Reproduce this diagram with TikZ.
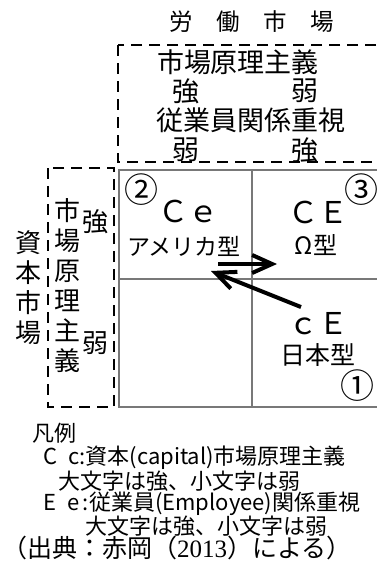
\documentclass[tikz,border=0pt]{standalone}
\usepackage{fontspec}
\setmainfont{Noto Sans CJK JP}
\newfontfamily\serifnum{Liberation Serif}
\usetikzlibrary{arrows.meta}
\newcommand\myfs[2]{\fontsize{#1}{#2}\selectfont}
\begin{document}
\begin{tikzpicture}[x=1pt,y=-1pt,
  dbox/.style={draw=black, line width=2.5pt, dash pattern=on 11pt off 7pt},
  gridline/.style={draw={rgb,255:red,120;green,120;blue,120}, line width=1.6pt},
  arr/.style={line width=4pt, -{Straight Barb[length=20pt,width=18pt]}},
  big/.style={inner sep=0pt, font={\myfs{27}{27}}},
  vert/.style={inner sep=0pt, align=center, font={\myfs{26}{30}}},
  side/.style={inner sep=0pt, font={\myfs{26}{26}}},
  quad/.style={inner sep=0pt, font={\myfs{24}{24}}},
  lat/.style={inner sep=0pt, font={\myfs{30}{30}}},
  circ/.style={inner sep=0pt, font={\myfs{34}{34}}},
  leg/.style={inner sep=0pt, anchor=west, font={\myfs{22}{22}}}
]
\useasboundingbox (0,0) rectangle (377,582);
\fill[white] (0,0) rectangle (377,582);
\clip (0,0) rectangle (377,582);

% title
\node[inner sep=0pt, font={\myfs{23.5}{23.5}}] (title) at (252,22) {労　働　市　場};

% top dashed box (labour market)
\draw[dbox] (118,45) rectangle (400,162);
\node[big] (tmk) at (238,62) {市場原理主義};
\node[big] (ts1) at (186,91) {強};
\node[big] (tw1) at (305,91) {弱};
\node[big] (tem) at (251,120) {従業員関係重視};
\node[big] (tw2) at (186,150) {弱};
\node[big] (ts2) at (305,150) {強};

% left dashed box (capital market)
\draw[dbox] (48,168) rectangle (114,407);
\node[vert] (cap) at (29,288) {資\\本\\市\\場};
\node[vert] (capm) at (67,286) {市\\場\\原\\理\\主\\義};
\node[side] (ls) at (95,222) {強};
\node[side] (lw) at (95,343) {弱};

% grid
\draw[gridline] (119,170) rectangle (386,407);
\draw[gridline] (252,170) -- (252,407);
\draw[gridline] (119,279) -- (386,279);

% quadrant labels
\node[circ] (n2) at (141,190) {②};
\node[lat] (ce) at (188,211) {Ｃｅ};
\node[quad, font={\myfs{23}{23}}] (us) at (184,246) {アメリカ型};
\node[lat] (CE) at (318,212) {ＣＥ};
\node[circ] (n3) at (361,190) {③};
\node[quad] (om) at (316,245) {Ω型};
\node[lat] (cE) at (318,324) {ｃＥ};
\node[quad, font={\myfs{25}{25}}] (jp) at (318,355) {日本型};
\node[circ] (n1) at (357,386) {①};

% arrows
\coordinate (a1s) at (218,264);
\coordinate (a1e) at (277,264);
\coordinate (a2s) at (301,307);
\coordinate (a2e) at (211,271);
\draw[arr] (a1s) -- (a1e);
\draw[arr] (a2s) -- (a2e);

% legend
\node[leg] (lg0) at (32,433) {凡例};
\node[leg] (lg1) at (43,458) {C\enspace c:資本(capital)市場原理主義};
\node[leg] (lg2) at (58,481) {大文字は強、小文字は弱};
\node[leg] (lg3) at (43,504) {E\enspace e\,:従業員(Employee)関係重視};
\node[leg] (lg4) at (85,526) {大文字は強、小文字は弱};
\node[inner sep=0pt, anchor=west, font={\myfs{25}{25}}] (src) at (2,548) {（出典：赤岡（{\serifnum 2013}）による）};
\end{tikzpicture}
\end{document}
